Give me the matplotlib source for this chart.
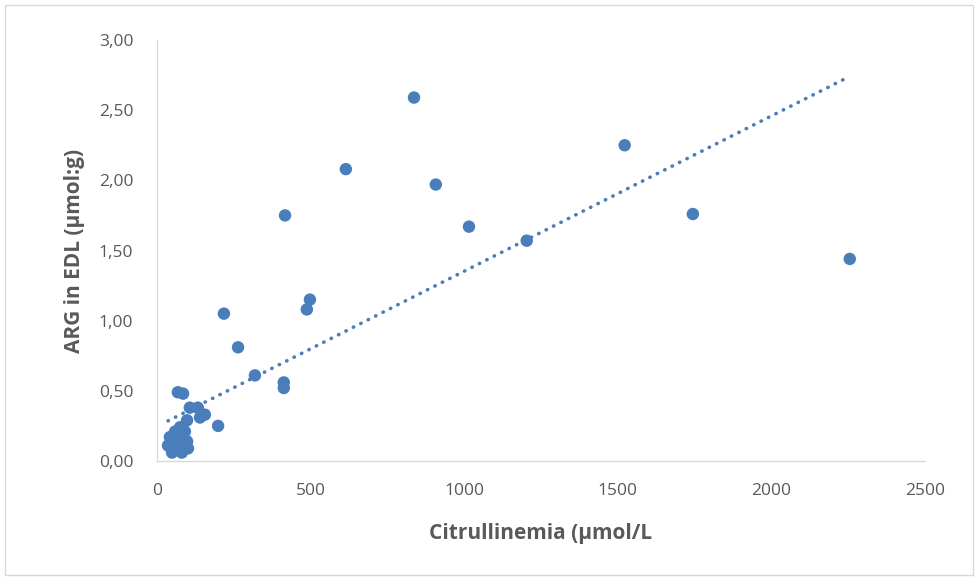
import numpy as np
import matplotlib
matplotlib.use("Agg")
import matplotlib.pyplot as plt
from matplotlib.patches import Rectangle
from matplotlib.ticker import FuncFormatter

# Citrullinemia (umol/L) vs ARG in EDL (umol:g)
CITRULLINE = [
    2256, 1745, 1523, 1204, 1016, 908, 837, 615, 417, 498, 488,
    413, 413, 319, 264, 218, 199, 68, 85,
    107, 133, 156, 140, 98, 75, 59, 91, 42, 68, 36, 65, 98, 49, 81, 101,
]
ARG = [
    1.44, 1.76, 2.25, 1.57, 1.67, 1.97, 2.59, 2.08, 1.75, 1.15, 1.08,
    0.56, 0.52, 0.61, 0.81, 1.05, 0.25, 0.49, 0.48,
    0.38, 0.38, 0.33, 0.31, 0.29, 0.24, 0.21, 0.21, 0.17, 0.16, 0.11, 0.11, 0.14, 0.06, 0.06, 0.09,
]

# Excel linear trend line as shown on the chart
TREND_SLOPE = 0.001106
TREND_INTERCEPT = 0.246

X_TICKS = [0, 500, 1000, 1500, 2000, 2500]
Y_TICKS = [0.0, 0.5, 1.0, 1.5, 2.0, 2.5, 3.0]

BLUE = "#4a7ebb"
GREY = "#595959"

plt.rcParams["font.family"] = ["Open Sans", "DejaVu Sans"]

fig = plt.figure(figsize=(9.78, 5.8), dpi=100)
ax = fig.add_axes([0.1605, 0.2052, 0.785, 0.7258])

x = np.array(CITRULLINE, dtype=float)
y = np.array(ARG, dtype=float)

xt = np.array([x.min(), x.max()])
ax.plot(xt, TREND_SLOPE * xt + TREND_INTERCEPT, linestyle=(0, (0.1, 2.2)),
        dash_capstyle="round", color=BLUE, linewidth=2.6, zorder=2)

ax.scatter(x, y, s=80, color=BLUE, edgecolors="none", zorder=3)

ax.set_xlim(0, 2500)
ax.set_ylim(0, 3.0)
ax.set_xticks(X_TICKS)
ax.set_yticks(Y_TICKS)
ax.yaxis.set_major_formatter(FuncFormatter(lambda v, p: f"{v:.2f}".replace(".", ",")))
ax.tick_params(axis="both", length=0, labelsize=12.5, labelcolor=GREY)
ax.tick_params(axis="y", pad=17)
ax.tick_params(axis="x", pad=16)

ax.set_xlabel("Citrullinemia (µmol/L", fontsize=15, fontweight="bold", color=GREY, labelpad=17)
ax.set_ylabel("ARG in EDL (µmol:g)", fontsize=15, fontweight="bold", color=GREY, labelpad=10)

for side in ["top", "right"]:
    ax.spines[side].set_visible(False)
for side in ["left", "bottom"]:
    ax.spines[side].set_color("#d9d9d9")
    ax.spines[side].set_linewidth(1.0)

fig.patches.append(Rectangle((0.005, 0.008), 0.99, 0.984, transform=fig.transFigure,
                             fill=False, edgecolor="#d9d9d9", linewidth=1.0))

fig.savefig("out.png", dpi=100)
